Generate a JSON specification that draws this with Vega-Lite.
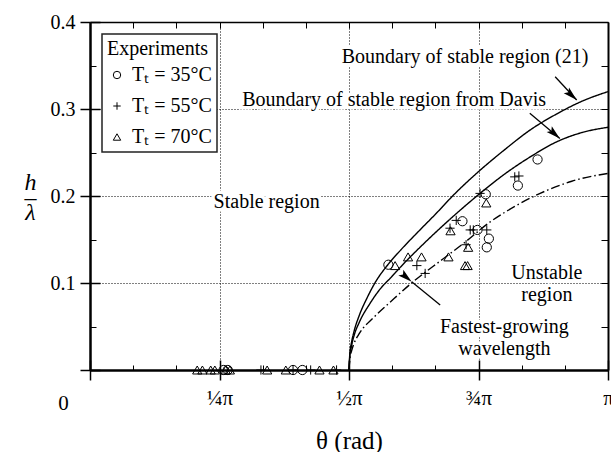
{
  "$schema": "https://vega.github.io/schema/vega-lite/v6.json",
  "width": 518,
  "height": 348,
  "autosize": {"type": "none"},
  "padding": {"left": 90, "top": 22, "right": 3, "bottom": 82},
  "background": "white",
  "config": {
    "view": {"stroke": null},
    "font": "Liberation Serif",
    "legend": {"strokeWidth": 1.5}
  },
  "datasets": {
    "curves": [
      {"curve": "Boundary (21)", "t": 0.5, "h": 0},
      {"curve": "Boundary (21)", "t": 0.5015, "h": 0.018},
      {"curve": "Boundary (21)", "t": 0.505, "h": 0.032},
      {"curve": "Boundary (21)", "t": 0.51, "h": 0.045},
      {"curve": "Boundary (21)", "t": 0.52, "h": 0.063},
      {"curve": "Boundary (21)", "t": 0.535, "h": 0.083},
      {"curve": "Boundary (21)", "t": 0.55, "h": 0.1},
      {"curve": "Boundary (21)", "t": 0.575, "h": 0.121},
      {"curve": "Boundary (21)", "t": 0.6, "h": 0.138},
      {"curve": "Boundary (21)", "t": 0.637, "h": 0.161},
      {"curve": "Boundary (21)", "t": 0.67, "h": 0.181},
      {"curve": "Boundary (21)", "t": 0.7, "h": 0.2},
      {"curve": "Boundary (21)", "t": 0.75, "h": 0.228},
      {"curve": "Boundary (21)", "t": 0.8, "h": 0.253},
      {"curve": "Boundary (21)", "t": 0.85, "h": 0.276},
      {"curve": "Boundary (21)", "t": 0.9, "h": 0.294},
      {"curve": "Boundary (21)", "t": 0.95, "h": 0.309},
      {"curve": "Boundary (21)", "t": 1.0, "h": 0.32},
      {"curve": "Davis", "t": 0.5, "h": 0},
      {"curve": "Davis", "t": 0.5015, "h": 0.015},
      {"curve": "Davis", "t": 0.505, "h": 0.028},
      {"curve": "Davis", "t": 0.51, "h": 0.04},
      {"curve": "Davis", "t": 0.52, "h": 0.055},
      {"curve": "Davis", "t": 0.54, "h": 0.076},
      {"curve": "Davis", "t": 0.56, "h": 0.093},
      {"curve": "Davis", "t": 0.582, "h": 0.107},
      {"curve": "Davis", "t": 0.61, "h": 0.125},
      {"curve": "Davis", "t": 0.637, "h": 0.141},
      {"curve": "Davis", "t": 0.7, "h": 0.176},
      {"curve": "Davis", "t": 0.753, "h": 0.203},
      {"curve": "Davis", "t": 0.8, "h": 0.225},
      {"curve": "Davis", "t": 0.85, "h": 0.245},
      {"curve": "Davis", "t": 0.9, "h": 0.262},
      {"curve": "Davis", "t": 0.95, "h": 0.273},
      {"curve": "Davis", "t": 1.0, "h": 0.279},
      {"curve": "Fastest", "t": 0.5, "h": 0},
      {"curve": "Fastest", "t": 0.5015, "h": 0.012},
      {"curve": "Fastest", "t": 0.505, "h": 0.022},
      {"curve": "Fastest", "t": 0.51, "h": 0.031},
      {"curve": "Fastest", "t": 0.52, "h": 0.042},
      {"curve": "Fastest", "t": 0.547, "h": 0.06},
      {"curve": "Fastest", "t": 0.585, "h": 0.081},
      {"curve": "Fastest", "t": 0.621, "h": 0.1},
      {"curve": "Fastest", "t": 0.68, "h": 0.127},
      {"curve": "Fastest", "t": 0.72, "h": 0.145},
      {"curve": "Fastest", "t": 0.772, "h": 0.17},
      {"curve": "Fastest", "t": 0.82, "h": 0.188},
      {"curve": "Fastest", "t": 0.869, "h": 0.203},
      {"curve": "Fastest", "t": 0.93, "h": 0.217},
      {"curve": "Fastest", "t": 1.0, "h": 0.226}
    ],
    "points": [
      {"T": "35", "t": 0.576, "h": 0.121},
      {"T": "35", "t": 0.719, "h": 0.171},
      {"T": "35", "t": 0.748, "h": 0.161},
      {"T": "35", "t": 0.764, "h": 0.202},
      {"T": "35", "t": 0.770, "h": 0.151},
      {"T": "35", "t": 0.766, "h": 0.141},
      {"T": "35", "t": 0.826, "h": 0.212},
      {"T": "35", "t": 0.864, "h": 0.242},
      {"T": "35", "t": 0.258, "h": 0},
      {"T": "35", "t": 0.266, "h": 0},
      {"T": "35", "t": 0.392, "h": 0},
      {"T": "35", "t": 0.41, "h": 0},
      {"T": "55", "t": 0.631, "h": 0.120},
      {"T": "55", "t": 0.647, "h": 0.111},
      {"T": "55", "t": 0.695, "h": 0.163},
      {"T": "55", "t": 0.707, "h": 0.172},
      {"T": "55", "t": 0.734, "h": 0.161},
      {"T": "55", "t": 0.740, "h": 0.161},
      {"T": "55", "t": 0.766, "h": 0.161},
      {"T": "55", "t": 0.726, "h": 0.144},
      {"T": "55", "t": 0.753, "h": 0.203},
      {"T": "55", "t": 0.820, "h": 0.222},
      {"T": "55", "t": 0.828, "h": 0.223},
      {"T": "55", "t": 0.33, "h": 0},
      {"T": "55", "t": 0.392, "h": 0},
      {"T": "55", "t": 0.426, "h": 0},
      {"T": "55", "t": 0.476, "h": 0},
      {"T": "70", "t": 0.589, "h": 0.120},
      {"T": "70", "t": 0.614, "h": 0.130},
      {"T": "70", "t": 0.640, "h": 0.130},
      {"T": "70", "t": 0.692, "h": 0.130},
      {"T": "70", "t": 0.696, "h": 0.160},
      {"T": "70", "t": 0.730, "h": 0.141},
      {"T": "70", "t": 0.724, "h": 0.120},
      {"T": "70", "t": 0.729, "h": 0.120},
      {"T": "70", "t": 0.765, "h": 0.192},
      {"T": "70", "t": 0.207, "h": 0},
      {"T": "70", "t": 0.217, "h": 0},
      {"T": "70", "t": 0.233, "h": 0},
      {"T": "70", "t": 0.241, "h": 0},
      {"T": "70", "t": 0.262, "h": 0},
      {"T": "70", "t": 0.27, "h": 0},
      {"T": "70", "t": 0.342, "h": 0},
      {"T": "70", "t": 0.378, "h": 0},
      {"T": "70", "t": 0.443, "h": 0},
      {"T": "70", "t": 0.47, "h": 0}
    ],
    "labels": [
      {"text": "Boundary of stable region (21)", "t": 0.724, "h": 0.36},
      {"text": "Boundary of stable region from Davis", "t": 0.587, "h": 0.31},
      {"text": "Stable region", "t": 0.341, "h": 0.1935},
      {"text": "Unstable\nregion", "t": 0.882, "h": 0.111},
      {"text": "Fastest-growing\nwavelength", "t": 0.8, "h": 0.049}
    ],
    "arrows": [
      {"id": "a21", "t": 0.898, "h": 0.337, "t2": 0.9396, "h2": 0.3103},
      {"id": "davis", "t": 0.849, "h": 0.295, "t2": 0.907, "h2": 0.266},
      {"id": "fastest", "t": 0.676, "h": 0.0747, "t2": 0.621, "h2": 0.1015}
    ]
  },
  "layer": [
    {
      "data": {"name": "labels"},
      "mark": {"type": "text", "font": "Liberation Serif", "fontSize": 20, "fill": "white", "stroke": "white", "strokeWidth": 7, "lineBreak": "\n", "lineHeight": 22, "baseline": "middle", "align": "center"},
      "encoding": {
        "x": {
          "field": "t", "type": "quantitative",
          "scale": {"domain": [0, 1], "nice": false, "zero": false},
          "axis": {
            "orient": "bottom", "values": [0, 0.25, 0.5, 0.75, 1],
            "labelExpr": "datum.value == 0 ? '0' : datum.value == 0.25 ? '¼π' : datum.value == 0.5 ? '½π' : datum.value == 0.75 ? '¾π' : 'π'",
            "labelOffset": {"condition": {"test": "datum.value == 0", "value": -27}, "value": 0},
            "labelPadding": {"condition": {"test": "datum.value == 0", "value": 12}, "value": 7},
            "labelFont": "Liberation Serif", "labelFontSize": 21, "labelColor": "black",
            "labelBaseline": "top", "labelFlush": false, "labelOverlap": false,
            "tickSize": 10, "tickWidth": 1.5, "tickColor": "black",
            "domainWidth": 2.5, "domainColor": "black", "grid": false,
            "title": "θ (rad)", "titleFont": "Liberation Serif", "titleFontSize": 25, "titleFontWeight": "normal", "titleColor": "black",
            "titleBaseline": "middle", "titleY": 70
          }
        },
        "y": {
          "field": "h", "type": "quantitative",
          "scale": {"domain": [0, 0.4], "nice": false, "zero": false},
          "axis": {
            "orient": "left", "values": [0, 0.1, 0.2, 0.3, 0.4],
            "labelExpr": "datum.value == 0 ? '' : format(datum.value, '.1f')",
            "labelFont": "Liberation Serif", "labelFontSize": 20, "labelColor": "black", "labelPadding": 5,
            "labelFlush": false, "labelOverlap": false,
            "tickSize": 10, "tickWidth": 1.5, "tickColor": "black",
            "domainWidth": 2.5, "domainColor": "black", "grid": false,
            "title": ["h", "–", "λ"], "titleFont": "Liberation Serif", "titleFontSize": 24, "titleFontStyle": "italic", "titleFontWeight": "normal", "titleColor": "black",
            "titleAngle": 0, "titleAlign": "center", "titleBaseline": "middle", "titleLineHeight": 15, "titleX": -60, "titleY": 160
          }
        },
        "text": {"field": "text"}
      }
    },
    {
      "data": {"name": "curves"},
      "mark": {"type": "line", "color": "black", "strokeWidth": 1.4, "interpolate": "monotone"},
      "encoding": {
        "x": {
          "field": "t", "type": "quantitative",
          "axis": {
            "orient": "top", "values": [0, 0.083333, 0.166667, 0.25, 0.333333, 0.416667, 0.5, 0.583333, 0.666667, 0.75, 0.833333, 0.916667, 1],
            "labels": false, "tickSize": -6, "tickWidth": 1, "tickColor": "black",
            "domainWidth": 1.5, "domainColor": "black", "grid": false, "title": null
          }
        },
        "y": {
          "field": "h", "type": "quantitative",
          "axis": {
            "orient": "right", "values": [0, 0.05, 0.1, 0.15, 0.2, 0.25, 0.3, 0.35, 0.4],
            "labels": false, "tickSize": -7, "tickWidth": 1, "tickColor": "black",
            "domainWidth": 2, "domainColor": "black", "grid": false, "title": null
          }
        },
        "strokeDash": {
          "field": "curve", "type": "nominal",
          "scale": {"domain": ["Boundary (21)", "Davis", "Fastest"], "range": [[1, 0], [1, 0], [9, 3, 1.5, 3]]},
          "legend": null
        },
        "order": {"field": "t", "type": "quantitative"}
      }
    },
    {
      "data": {"name": "points"},
      "mark": {"type": "point", "filled": false, "color": "black", "strokeWidth": 1, "size": 85, "opacity": 1},
      "encoding": {
        "x": {
          "field": "t", "type": "quantitative",
          "axis": {
            "orient": "bottom", "values": [0, 0.083333, 0.166667, 0.25, 0.333333, 0.416667, 0.5, 0.583333, 0.666667, 0.75, 0.833333, 0.916667, 1],
            "labels": false, "domain": false,
            "tickSize": {"condition": {"test": "abs(datum.value*4 - round(datum.value*4)) < 0.001", "value": -10}, "value": -5},
            "tickWidth": {"condition": {"test": "abs(datum.value*4 - round(datum.value*4)) < 0.001", "value": 1.5}, "value": 1},
            "tickColor": "black",
            "grid": true, "gridColor": "black", "gridDash": [1, 2], "gridWidth": 1,
            "gridOpacity": {"condition": {"test": "datum.value > 0.1 && datum.value < 0.9 && abs(datum.value*4 - round(datum.value*4)) < 0.001", "value": 1}, "value": 0},
            "title": null
          }
        },
        "y": {
          "field": "h", "type": "quantitative",
          "axis": {
            "orient": "left", "values": [0, 0.05, 0.1, 0.15, 0.2, 0.25, 0.3, 0.35, 0.4],
            "labels": false, "domain": false,
            "tickSize": {"condition": {"test": "abs(datum.value*10 - round(datum.value*10)) < 0.001", "value": -10}, "value": -6},
            "tickWidth": {"condition": {"test": "abs(datum.value*10 - round(datum.value*10)) < 0.001", "value": 1.5}, "value": 1},
            "tickColor": "black",
            "grid": true, "gridColor": "black", "gridDash": [1, 2], "gridWidth": 1,
            "gridOpacity": {"condition": {"test": "datum.value > 0.05 && datum.value < 0.35 && abs(datum.value*10 - round(datum.value*10)) < 0.001", "value": 1}, "value": 0},
            "title": null
          }
        },
        "shape": {
          "field": "T", "type": "nominal",
          "scale": {"domain": ["35", "55", "70"], "range": ["circle", "M-1,0H1M0,-1V1", "triangle-up"]},
          "legend": {
            "orient": "top-left", "offset": 12, "title": "Experiments",
            "labelExpr": "'Tₜ = ' + datum.label + '°C'",
            "strokeColor": "#222", "fillColor": "white", "padding": 5,
            "titleFont": "Liberation Serif", "titleFontSize": 20, "titleFontWeight": "normal", "titleColor": "black", "titlePadding": 6,
            "labelFont": "Liberation Serif", "labelFontSize": 20, "labelColor": "black", "labelOffset": 5,
            "symbolSize": 55, "symbolStrokeColor": "black", "symbolStrokeWidth": 1, "symbolFillColor": "transparent",
            "rowPadding": 11
          }
        }
      }
    },
    {
      "data": {"name": "labels"},
      "mark": {"type": "text", "font": "Liberation Serif", "fontSize": 20, "color": "black", "lineBreak": "\n", "lineHeight": 22, "baseline": "middle", "align": "center"},
      "encoding": {
        "x": {"field": "t", "type": "quantitative", "axis": null},
        "y": {"field": "h", "type": "quantitative", "axis": null},
        "text": {"field": "text"}
      }
    },
    {
      "data": {"name": "arrows"},
      "mark": {"type": "rule", "color": "black", "strokeWidth": 1.3},
      "encoding": {
        "x": {"field": "t", "type": "quantitative", "axis": null},
        "y": {"field": "h", "type": "quantitative", "axis": null},
        "x2": {"field": "t2"},
        "y2": {"field": "h2"}
      }
    },
    {
      "data": {"name": "arrows"},
      "mark": {"type": "point", "shape": "M0,0L0.55,2L0,1.6L-0.55,2Z", "filled": true, "color": "black", "size": 200, "opacity": 1},
      "encoding": {
        "x": {"field": "t2", "type": "quantitative", "axis": null},
        "y": {"field": "h2", "type": "quantitative", "axis": null},
        "angle": {"field": "id", "type": "nominal", "scale": {"domain": ["a21", "davis", "fastest"], "range": [133, 130, 310]}, "legend": null}
      }
    }
  ],
  "resolve": {"axis": {"x": "independent", "y": "independent"}}
}
